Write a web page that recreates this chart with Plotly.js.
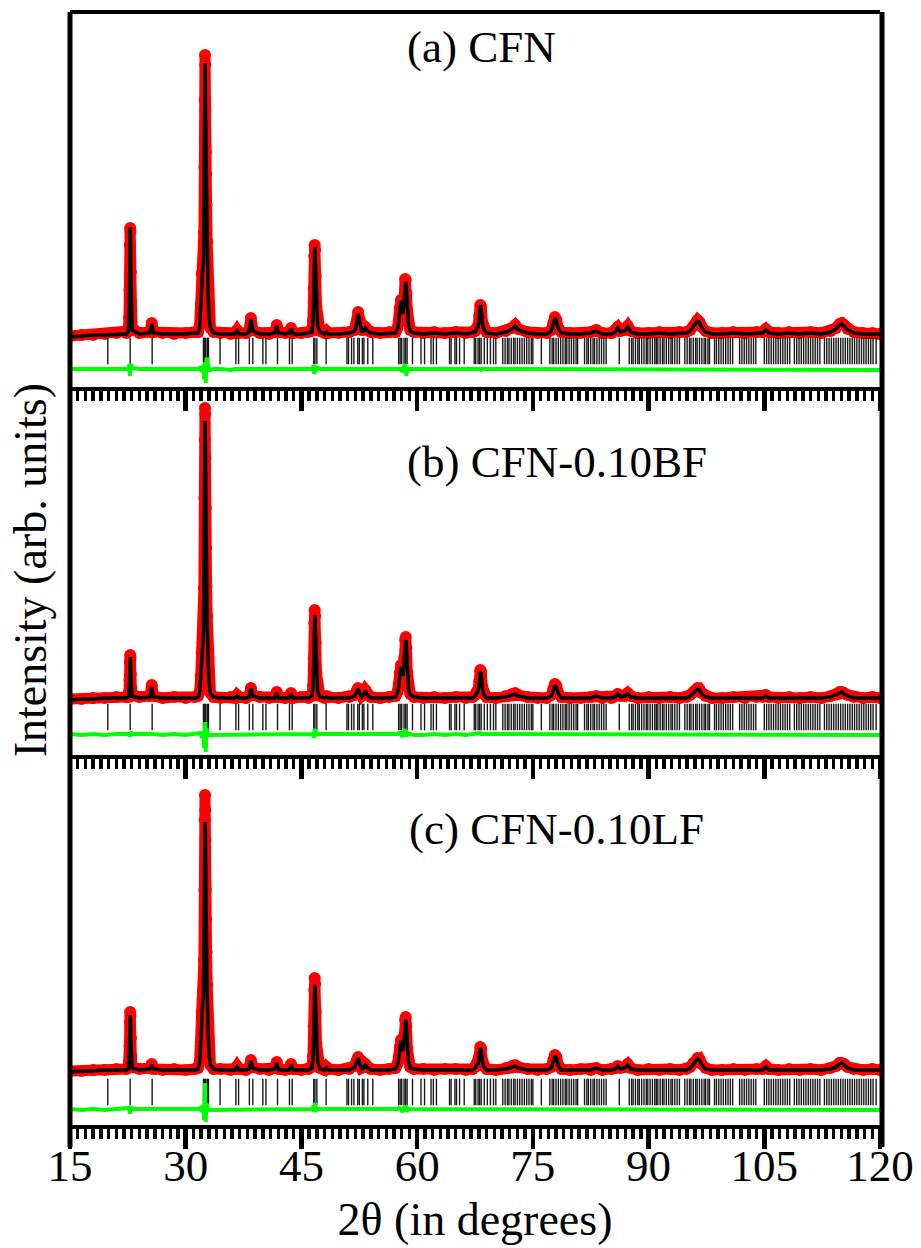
<!DOCTYPE html>
<html>
<head>
<meta charset="utf-8">
<script src="https://cdn.plot.ly/plotly-3.0.1.min.js"></script>
<style>html,body{margin:0;padding:0;background:#fff}</style>
</head>
<body>
<div id="chart" style="width:921px;height:1248px"></div>
<script>
// 2θ sampling points (degrees), shared by the three refinements
const twoTheta = [
  15.0, 16.5, 18.0, 19.5, 21.0, 22.3,
  22.55, 22.65, 22.71, 22.76, 22.8, 22.84, 22.89, 22.95, 23.05,
  24.0, 25.35, 25.6, 25.85, 27.0, 28.5, 30.0, 31.2,
  31.6, 31.8, 31.95, 32.08, 32.2, 32.3, 32.36, 32.42, 32.46, 32.5, 32.53, 32.56, 32.6, 32.64, 32.7, 32.78, 32.88, 33.0, 33.2, 33.6,
  34.5, 35.8, 36.4, 36.65, 36.9, 37.8, 38.2, 38.45, 38.7, 39.6, 40.8, 41.55, 41.8, 42.05, 42.9, 43.4, 43.65, 43.9, 45.0, 45.9,
  46.35, 46.5, 46.6, 46.66, 46.72, 46.78, 46.85, 46.95, 47.1, 47.4,
  48.0, 48.25, 48.5, 49.8, 51.2, 51.9, 52.15, 52.35, 52.55, 52.8, 53.05, 53.3, 53.55, 54.0, 55.2, 56.4,
  57.2, 57.45, 57.62, 57.75, 57.9, 58.05, 58.2, 58.32, 58.44, 58.52, 58.6, 58.72, 58.88, 59.1, 59.6,
  60.8, 62.2, 63.6, 65.0, 66.3, 67.2,
  67.5, 67.7, 67.9, 68.05, 68.18, 68.3, 68.45, 68.65, 69.0,
  70.2, 71.5, 72.3, 72.7, 73.1, 74.3, 75.6, 76.8, 77.4, 77.65, 77.85, 78.05, 78.3, 78.7, 79.8,
  81.2, 82.5, 83.2, 84.0, 85.2, 85.7, 86.0, 86.35, 86.9, 87.3, 87.7, 88.6, 90.0, 91.4, 92.8, 94.0,
  94.9, 95.4, 95.8, 96.1, 96.35, 96.6, 96.9, 97.4, 98.2,
  99.5, 101.0, 102.5, 104.0, 104.8, 105.2, 105.6, 106.8, 108.2, 109.6, 111.0, 112.4, 113.6, 114.3, 114.75, 115.05, 115.35, 115.8, 116.6, 117.8, 119.0, 120.0
];

// (a) CFN: observed and calculated intensity (arb. units)
const obsCFN = [
  98, 99, 99, 100, 101, 101,
  103, 116, 144, 189, 206, 202, 162, 132, 106,
  101, 102, 111, 102, 101, 100, 101, 102,
  102, 108, 130, 160, 169, 175, 201, 267, 334, 379, 369, 324, 282, 260, 229, 192, 150, 120, 106, 102,
  101, 100, 101, 104, 101, 101, 103, 116, 104, 101, 100, 102, 109, 102, 101, 102, 106, 101, 101, 102,
  103, 114, 145, 178, 189, 184, 158, 128, 110, 103,
  101, 103, 101, 101, 102, 104, 112, 122, 114, 104, 104, 107, 104, 102, 101, 102,
  102, 106, 114, 126, 134, 124, 122, 136, 155, 154, 141, 124, 110, 104, 102,
  101, 102, 101, 102, 101, 102,
  103, 106, 108, 118, 129, 127, 112, 105, 102,
  101, 103, 106, 109, 105, 102, 101, 101, 104, 111, 117, 114, 106, 102, 101,
  101, 102, 104, 101, 101, 103, 107, 103, 104, 108, 103, 101, 101, 102, 101, 102,
  102, 104, 108, 111, 114, 112, 107, 103, 101,
  101, 102, 101, 102, 102, 105, 102, 101, 102, 101, 102, 101, 103, 106, 110, 111, 109, 105, 102, 101, 101, 100
];
const calcCFN = [
  97, 98, 99, 99, 100, 100,
  102, 112, 140, 195, 207, 196, 160, 128, 104,
  100, 101, 110, 101, 100, 100, 100, 101,
  101, 106, 128, 162, 166, 170, 210, 275, 340, 371, 362, 330, 295, 262, 218, 180, 144, 120, 106, 101,
  100, 100, 100, 103, 100, 100, 102, 115, 103, 100, 100, 101, 108, 101, 100, 101, 105, 100, 100, 101,
  102, 112, 140, 182, 187, 180, 160, 125, 108, 102,
  100, 102, 100, 100, 101, 103, 110, 120, 113, 103, 103, 106, 103, 101, 100, 101,
  101, 105, 112, 124, 133, 126, 120, 134, 149, 152, 147, 122, 109, 103, 101,
  100, 101, 100, 101, 100, 101,
  102, 105, 107, 116, 128, 127, 111, 104, 101,
  100, 102, 105, 108, 104, 101, 100, 100, 103, 110, 116, 113, 105, 101, 100,
  100, 101, 103, 100, 100, 102, 106, 102, 103, 107, 102, 100, 100, 101, 100, 101,
  101, 103, 107, 110, 113, 111, 106, 102, 100,
  100, 101, 100, 101, 101, 104, 101, 100, 101, 100, 101, 100, 102, 105, 109, 110, 108, 104, 101, 100, 100, 100
];

// (b) CFN-0.10BF
const obsBF = [
  99, 99, 100, 100, 101, 101,
  101, 106, 118, 136, 143, 140, 124, 110, 103,
  101, 102, 113, 102, 100, 101, 100, 101,
  102, 106, 122, 145, 155, 170, 210, 300, 358, 390, 384, 340, 290, 250, 212, 182, 145, 118, 105, 101,
  100, 101, 100, 103, 101, 100, 102, 110, 103, 101, 100, 101, 106, 101, 100, 101, 105, 100, 101, 100,
  102, 112, 140, 175, 188, 182, 155, 125, 108, 102,
  100, 102, 101, 100, 101, 103, 107, 110, 106, 102, 104, 108, 104, 101, 100, 101,
  102, 106, 114, 125, 133, 124, 124, 140, 158, 161, 150, 126, 110, 104, 101,
  100, 101, 100, 101, 100, 101,
  103, 106, 108, 117, 128, 126, 111, 104, 101,
  100, 102, 104, 105, 103, 101, 100, 100, 103, 109, 114, 112, 105, 101, 100,
  100, 101, 102, 100, 100, 102, 104, 102, 102, 105, 102, 100, 101, 100, 101, 100,
  101, 103, 106, 108, 110, 109, 105, 102, 100,
  100, 101, 100, 101, 101, 103, 101, 100, 101, 100, 101, 100, 102, 104, 106, 106, 105, 103, 101, 100, 101, 100
];
const calcBF = [
  98, 99, 99, 100, 100, 100,
  101, 105, 116, 138, 141, 137, 122, 109, 102,
  100, 101, 111, 101, 100, 100, 100, 100,
  101, 105, 120, 148, 152, 166, 220, 313, 362, 377, 371, 350, 307, 250, 205, 178, 145, 118, 105, 101,
  100, 100, 100, 102, 100, 100, 101, 109, 102, 100, 100, 100, 105, 100, 100, 100, 104, 100, 100, 100,
  102, 111, 138, 178, 183, 176, 156, 123, 107, 101,
  100, 101, 100, 100, 100, 102, 106, 109, 105, 101, 103, 107, 103, 100, 100, 100,
  101, 105, 112, 123, 131, 126, 122, 138, 152, 158, 152, 124, 109, 103, 101,
  100, 100, 100, 100, 100, 100,
  102, 105, 107, 115, 126, 125, 110, 103, 100,
  100, 101, 103, 104, 102, 100, 100, 100, 102, 108, 113, 111, 104, 100, 100,
  100, 100, 102, 100, 100, 101, 104, 101, 102, 104, 101, 100, 100, 100, 100, 100,
  100, 102, 105, 107, 109, 108, 104, 101, 100,
  100, 100, 100, 100, 100, 102, 100, 100, 100, 100, 100, 100, 101, 103, 105, 106, 104, 102, 100, 100, 100, 100
];

// (c) CFN-0.10LF
const obsLF = [
  99, 99, 100, 100, 101, 101,
  102, 108, 124, 148, 158, 154, 132, 114, 103,
  101, 102, 106, 101, 100, 101, 100, 101,
  102, 108, 128, 158, 170, 176, 210, 280, 350, 375, 360, 330, 280, 250, 218, 185, 145, 118, 105, 101,
  101, 100, 101, 104, 101, 100, 102, 110, 103, 101, 100, 102, 108, 101, 100, 101, 106, 101, 100, 101,
  103, 114, 144, 180, 192, 186, 158, 126, 109, 102,
  100, 103, 101, 100, 101, 104, 109, 113, 108, 102, 103, 106, 103, 101, 100, 101,
  102, 106, 113, 123, 130, 122, 121, 134, 150, 153, 144, 122, 109, 103, 101,
  101, 100, 101, 101, 100, 101,
  103, 106, 107, 114, 123, 121, 109, 104, 101,
  100, 102, 104, 105, 103, 101, 100, 101, 103, 110, 115, 113, 105, 101, 100,
  101, 100, 102, 100, 101, 102, 104, 102, 103, 106, 102, 100, 101, 100, 101, 100,
  101, 103, 107, 109, 112, 111, 106, 102, 100,
  100, 101, 100, 101, 101, 104, 101, 100, 101, 100, 101, 100, 102, 104, 107, 107, 106, 103, 101, 100, 101, 100
];
const calcLF = [
  98, 99, 99, 100, 100, 100,
  101, 107, 122, 152, 155, 150, 130, 112, 102,
  100, 101, 105, 101, 100, 100, 100, 100,
  101, 107, 126, 160, 168, 174, 218, 288, 338, 348, 346, 334, 292, 250, 212, 180, 144, 118, 105, 101,
  100, 100, 100, 103, 100, 100, 101, 109, 102, 100, 100, 101, 107, 100, 100, 100, 105, 100, 100, 100,
  102, 112, 140, 182, 185, 180, 160, 124, 108, 101,
  100, 102, 100, 100, 100, 103, 108, 112, 107, 101, 102, 105, 102, 100, 100, 100,
  101, 105, 111, 121, 129, 124, 119, 132, 146, 150, 146, 120, 108, 102, 101,
  100, 100, 100, 100, 100, 100,
  102, 105, 106, 113, 122, 120, 108, 103, 100,
  100, 101, 103, 104, 102, 100, 100, 100, 102, 109, 114, 112, 104, 100, 100,
  100, 100, 102, 100, 100, 101, 104, 101, 102, 105, 101, 100, 100, 100, 100, 100,
  100, 102, 106, 108, 111, 110, 105, 101, 100,
  100, 100, 100, 100, 100, 103, 100, 100, 100, 100, 100, 100, 101, 103, 106, 107, 105, 102, 100, 100, 100, 100
];

// Bragg reflection positions (2θ, degrees)
const braggPos = [
  19.9, 22.8, 25.65, 32.3, 32.45, 32.6, 32.8, 32.95, 34.45, 36.5, 36.85, 38.25, 38.7, 40.0, 40.4, 41.9,
  43.45, 43.8, 46.6, 46.75, 47.0, 48.2, 50.9, 51.1, 51.5, 51.8, 52.3, 52.5, 52.9, 53.1, 53.6, 54.25,
  57.6, 57.8, 58.0, 58.3, 58.5, 58.7, 59.4, 60.5, 60.96, 61.8, 62.1, 62.5, 64.2, 64.4, 64.9, 65.1, 65.5, 66.1,
  67.4, 67.6, 67.9, 68.1, 68.3, 68.7, 69.1, 69.5, 69.9, 70.2,
  71.1, 71.4, 71.7, 71.9, 72.2, 72.5, 72.7, 73.0, 73.3, 73.6, 73.9, 74.2, 74.5, 74.8, 75.0, 76.1,
  77.2, 77.5, 77.7, 78.0, 78.3, 78.6, 78.9, 79.2, 79.4, 79.7, 80.0, 80.3, 80.6, 80.8,
  81.7, 82.0, 82.2, 82.5, 82.8, 83.0, 83.3, 83.6, 83.9, 84.2, 84.5, 86.2,
  87.5, 87.8, 88.0, 88.3, 88.6, 88.8, 89.1, 89.4, 89.7, 89.9, 90.2, 90.5, 90.8, 91.0,
  91.2, 91.5, 91.8, 92.0, 92.3, 92.6, 92.9, 93.1, 93.4, 93.7, 94.0,
  94.7, 95.0, 95.3, 95.5, 95.8, 96.1, 96.3, 96.6, 96.9, 97.2, 97.4, 97.7, 97.9,
  98.55, 98.8, 99.1, 99.4, 99.7, 100.0, 100.3, 100.6, 100.9,
  101.8, 102.1, 102.4, 102.7, 103.0, 103.3, 103.6, 103.9,
  105.0, 105.3, 105.6, 105.9, 106.2, 106.5, 106.8, 107.1, 107.4, 107.7, 108.0, 108.3,
  108.9, 109.2, 109.5, 109.8, 110.1, 110.4, 110.7, 111.0, 111.3, 111.6, 111.9, 112.2,
  112.8, 113.1, 113.4, 113.7, 114.0, 114.3, 114.6, 114.9, 115.2, 115.5, 115.8, 116.1, 116.4,
  116.7, 117.0, 117.3, 117.6, 117.9, 118.2, 118.5, 118.8, 119.1, 119.5
];

const panelLabels = ['(a) CFN', '(b) CFN-0.10BF', '(c) CFN-0.10LF'];

// panel layout: y axis, vertical domain, value range, Bragg-mark level, difference baseline
const panels = [
  { obs: obsCFN, calc: calcCFN, yref: 'y3', xref: 'x3', domain: [0.6643, 1], range: [47, 420], braggLevel: 83, diffLevel: 64 },
  { obs: obsBF,  calc: calcBF,  yref: 'y2', xref: 'x2', domain: [0.3330, 0.6643], range: [43, 411], braggLevel: 81, diffLevel: 63 },
  { obs: obsLF,  calc: calcLF,  yref: 'y',  xref: 'x',  domain: [0, 0.3330], range: [45, 415], braggLevel: 78, diffLevel: 60 }
];

const serif = '"Times New Roman", "Liberation Serif", "DejaVu Serif", serif';
const traces = [];
panels.forEach(p => {
  traces.push({
    x: twoTheta, y: p.obs, xaxis: p.xref, yaxis: p.yref, type: 'scatter', mode: 'lines+markers',
    line: { color: 'rgb(255,0,0)', width: 11 },
    marker: { color: 'rgb(255,0,0)', size: 12 },
    hoverinfo: 'skip', showlegend: false
  });
  traces.push({
    x: twoTheta, y: p.calc, xaxis: p.xref, yaxis: p.yref, type: 'scatter', mode: 'lines',
    line: { color: 'black', width: 3.5 }, hoverinfo: 'skip', showlegend: false
  });
  traces.push({
    x: braggPos, y: braggPos.map(() => p.braggLevel), xaxis: p.xref, yaxis: p.yref,
    type: 'scatter', mode: 'markers',
    marker: { symbol: 'line-ns', size: 19, line: { color: 'rgba(0,0,0,0.9)', width: 1.4 } },
    hoverinfo: 'skip', showlegend: false
  });
  traces.push({
    x: twoTheta, y: p.obs.map((v, i) => v - p.calc[i] + p.diffLevel), xaxis: p.xref, yaxis: p.yref,
    type: 'scatter', mode: 'lines', line: { color: 'rgb(0,255,0)', width: 4 },
    hoverinfo: 'skip', showlegend: false
  });
});

function xAxis(anchor, labels, mirror) {
  return {
    anchor: anchor, domain: [0, 1], range: [15, 120], tick0: 15, dtick: 15,
    ticks: 'outside', ticklen: 20, tickwidth: 4.5, tickcolor: 'black',
    showline: true, linewidth: 4, linecolor: 'black', mirror: mirror,
    showgrid: false, zeroline: false, showticklabels: labels, fixedrange: true,
    ticklabelstandoff: -22,
    minor: { dtick: 1, ticks: 'outside', ticklen: 10, tickwidth: 3.5, tickcolor: 'black', showgrid: false },
    tickfont: { family: serif, size: 45, color: 'black' }
  };
}
function yAxis(p) {
  return { domain: p.domain, range: p.range, visible: false, fixedrange: true, showgrid: false, zeroline: false };
}

const xa = xAxis('y', true, false);
xa.title = { text: '2θ (in degrees)', font: { family: serif, size: 46, color: 'black' }, standoff: 14 };

const layout = {
  width: 921, height: 1248,
  margin: { l: 70, r: 41, t: 14, b: 123 },
  font: { family: serif, color: 'black' },
  paper_bgcolor: 'white', plot_bgcolor: 'white',
  showlegend: false,
  xaxis: xa,
  xaxis2: Object.assign(xAxis('y2', false, false), { matches: 'x' }),
  xaxis3: Object.assign(xAxis('y3', false, true), { matches: 'x' }),
  yaxis: yAxis(panels[2]),
  yaxis2: yAxis(panels[1]),
  yaxis3: yAxis(panels[0]),
  shapes: [
    { type: 'line', xref: 'paper', yref: 'paper', x0: 0, x1: 0, y0: -0.0198, y1: 1.0018, line: { color: 'black', width: 5 } },
    { type: 'line', xref: 'paper', yref: 'paper', x0: 1.0025, x1: 1.0025, y0: -0.0198, y1: 1.0018, line: { color: 'black', width: 5 } }
  ],
  annotations: [
    { text: panelLabels[0], xref: 'paper', yref: 'paper', x: 0.5086, y: 0.9703, showarrow: false,
      xanchor: 'center', yanchor: 'middle', font: { family: serif, size: 45, color: 'black' } },
    { text: panelLabels[1], xref: 'paper', yref: 'paper', x: 0.6012, y: 0.5968, showarrow: false,
      xanchor: 'center', yanchor: 'middle', font: { family: serif, size: 45, color: 'black' } },
    { text: panelLabels[2], xref: 'paper', yref: 'paper', x: 0.6, y: 0.2664, showarrow: false,
      xanchor: 'center', yanchor: 'middle', font: { family: serif, size: 45, color: 'black' } },
    { text: 'Intensity (arb. units)', xref: 'paper', yref: 'paper', x: -0.049, y: 0.4995, textangle: -90,
      showarrow: false, xanchor: 'center', yanchor: 'middle', font: { family: serif, size: 46, color: 'black' } }
  ]
};

Plotly.newPlot('chart', traces, layout, { staticPlot: true, displayModeBar: false });
</script>
</body>
</html>
